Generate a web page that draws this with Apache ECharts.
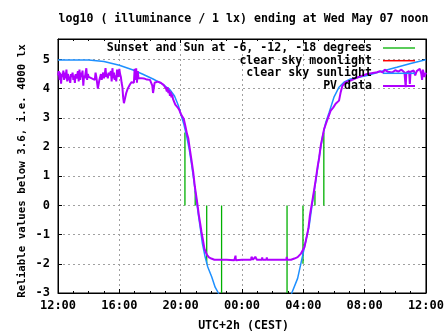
<!DOCTYPE html>
<html>
<head>
<meta charset="utf-8">
<script src="https://cdn.jsdelivr.net/npm/echarts@6/dist/echarts.min.js"></script>
<style>html,body{margin:0;padding:0;background:#fff}#c{width:447px;height:335px}</style>
</head>
<body>
<div id="c"></div>
<script>
// hours after 12:00 (May 06) -> log10 illuminance
const pvData = [
[0.00,4.45],[0.05,4.60],[0.10,4.30],[0.15,4.55],[0.20,4.17],[0.25,4.50],[0.30,4.40],[0.35,4.62],[0.40,4.30],[0.45,4.55],
[0.50,4.35],[0.55,4.65],[0.60,4.25],[0.65,4.50],[0.70,4.40],[0.75,4.45],[0.80,4.20],[0.85,4.50],[0.90,4.40],[0.95,4.55],
[1.00,4.30],[1.05,4.45],[1.10,4.20],[1.15,4.50],[1.20,4.35],[1.25,4.45],[1.30,4.60],[1.35,4.25],[1.40,4.65],[1.45,4.30],
[1.50,4.55],[1.55,4.40],[1.60,4.62],[1.65,4.10],[1.70,4.45],[1.75,4.35],[1.80,4.55],[1.85,4.70],[1.90,4.30],[1.95,4.50],
[2.00,4.40],[2.10,4.45],[2.20,4.35],[2.30,4.40],[2.40,4.30],[2.45,4.55],[2.50,4.40],[2.55,4.35],[2.60,4.00],[2.65,3.95],
[2.70,4.30],[2.75,4.40],[2.80,4.50],[2.85,4.30],[2.90,4.45],[2.95,4.55],[3.00,4.35],[3.05,4.50],[3.10,4.70],[3.15,4.40],
[3.20,4.50],[3.25,4.35],[3.30,4.55],[3.35,4.45],[3.40,4.40],[3.45,4.60],[3.50,4.25],[3.55,4.70],[3.60,4.35],[3.65,4.55],
[3.70,4.30],[3.75,4.45],[3.80,4.25],[3.85,4.65],[3.90,4.50],[3.95,4.40],[4.00,4.68],[4.05,4.50],[4.10,4.40],[4.15,4.20],
[4.20,4.05],[4.25,3.70],[4.30,3.50],[4.38,3.52],[4.45,3.85],[4.55,4.00],[4.62,4.05],[4.70,4.15],[4.80,4.22],[4.90,4.25],
[4.95,4.20],[5.00,4.68],[5.05,4.30],[5.10,4.70],[5.15,4.20],[5.20,4.60],[5.25,4.35],[5.30,4.40],[5.40,4.36],[5.50,4.37],
[5.60,4.35],[5.70,4.32],[5.80,4.31],[5.90,4.30],[6.00,4.30],[6.10,4.25],[6.15,4.10],[6.20,3.85],[6.25,3.83],[6.30,4.20],
[6.40,4.25],[6.50,4.24],[6.60,4.22],[6.70,4.20],[6.80,4.15],[6.90,4.12],[7.00,4.08],[7.05,4.00],[7.10,3.90],[7.15,4.05],
[7.20,3.85],[7.25,3.95],[7.30,3.75],[7.35,3.90],[7.40,3.70],[7.45,3.80],[7.50,3.65],[7.55,3.60],[7.65,3.45],[7.80,3.36],
[7.90,3.28],[8.00,3.15],[8.10,3.05],[8.20,2.97],[8.30,2.74],[8.41,2.46],[8.50,2.30],[8.58,2.00],[8.71,1.54],[8.82,1.14],
[8.93,0.63],[9.06,0.17],[9.13,-0.10],[9.19,-0.34],[9.28,-0.63],[9.36,-0.91],[9.46,-1.20],[9.55,-1.48],[9.65,-1.62],[9.73,-1.70],
[9.85,-1.78],[10.0,-1.82],[10.2,-1.86],[11.0,-1.86],[11.1,-1.90],[11.5,-1.88],[11.57,-1.88],[11.58,-1.72],[11.60,-1.88],[12.0,-1.86],
[12.6,-1.86],[12.62,-1.76],[12.7,-1.76],[12.72,-1.86],[12.85,-1.86],[12.87,-1.76],[12.95,-1.76],[12.97,-1.86],[13.3,-1.86],[13.32,-1.78],
[13.34,-1.86],[13.6,-1.86],[13.62,-1.78],[13.64,-1.86],[14.9,-1.86],[14.92,-1.76],[14.95,-1.86],[15.2,-1.86],[15.42,-1.82],[15.63,-1.77],
[15.85,-1.65],[16.07,-1.43],[16.17,-1.20],[16.33,-0.80],[16.43,-0.34],[16.54,0.00],[16.63,0.28],[16.72,0.57],[16.82,0.91],[16.93,1.31],
[17.04,1.65],[17.14,2.05],[17.25,2.34],[17.36,2.62],[17.58,2.95],[17.79,3.25],[17.95,3.35],[18.11,3.48],[18.33,3.59],[18.44,3.88],
[18.55,4.10],[18.76,4.22],[19.08,4.28],[19.52,4.38],[20.16,4.50],[20.81,4.56],[21.0,4.60],[21.2,4.55],[21.3,4.65],[21.5,4.58],
[21.6,4.62],[21.8,4.55],[22.0,4.63],[22.2,4.58],[22.4,4.65],[22.6,4.55],[22.68,4.05],[22.72,4.55],[22.9,4.60],[22.95,4.16],
[23.0,4.58],[23.2,4.62],[23.3,4.45],[23.4,4.60],[23.5,4.55],[23.6,4.68],[23.7,4.50],[23.75,4.30],[23.8,4.65],[23.9,4.40],[24.0,4.55]
];
const sunData = [
[0,4.98],[2.0,4.98],[3.0,4.93],[4.0,4.80],[4.9,4.64],[5.5,4.50],[6.2,4.33],[6.8,4.16],[7.3,3.96],[7.6,3.75],
[7.85,3.42],[8.0,3.15],[8.2,2.80],[8.4,2.35],[8.55,1.95],[8.7,1.45],[8.85,0.90],[9.0,0.30],[9.15,-0.30],[9.3,-0.85],
[9.42,-1.31],[9.6,-1.77],[9.77,-2.11],[10.03,-2.45],[10.25,-2.80],[10.46,-3.0],[10.7,-3.4],[15.0,-3.4],[15.25,-3.0],[15.63,-2.5],
[15.96,-1.71],[16.17,-1.20],[16.39,-0.68],[16.6,0.11],[16.82,0.86],[16.93,1.26],[17.1,1.88],[17.25,2.34],[17.47,2.85],[17.69,3.19],
[18.01,3.72],[18.33,4.05],[18.65,4.22],[19.08,4.33],[20.16,4.45],[21.0,4.58],[22.1,4.73],[23.0,4.86],[23.92,4.98],[24.0,4.99]
];
const moonData = [];
const eventTimes = [8.28, 8.95, 9.70, 10.67, 14.94, 15.98, 16.76, 17.34];
const eventHeights = [2.5, 0.5, -2.0, -3.0, -3.0, -2.0, 0.5, 2.5];
const xTickLabels = ['12:00','16:00','20:00','00:00','04:00','08:00','12:00'];
const yTickLabels = ['-3','-2','-1','0','1','2','3','4','5'];

const names = ['Sunset and Sun at -6, -12, -18 degrees','clear sky moonlight','clear sky sunlight','PV data'];
const colors = ['#00b000', '#ff0000', '#1e90ff', '#b000ff'];
const widths = [1.3, 1.5, 1.5, 2];
const FONT = 'DejaVu Sans Mono';

const eventData = [];
eventTimes.forEach((t, i) => { eventData.push([t, 0], [t, eventHeights[i]], [t, '-']); });

const chart = echarts.init(document.getElementById('c'), null, {renderer: 'canvas'});
const gridLine = {show: true, lineStyle: {color: '#a0a0a0', type: [2, 3], width: 1}};
const legendBase = (i, top) => ({
  data: [names[i]], right: 32, top: top, orient: 'horizontal', align: 'right', padding: 0,
  itemWidth: 32, itemHeight: 14, selectedMode: false, symbolKeepAspect: true,
  icon: 'path://M0,0L32,0L32,' + widths[i] + 'L0,' + widths[i] + 'Z',
  itemStyle: {color: colors[i], borderWidth: 0},
  textStyle: {fontFamily: FONT, fontSize: 11.6, fontWeight: 'bold', color: '#000', lineHeight: 14, padding: [0, 6, 0, 0]}
});
const axisLineStyle = {show: true, onZero: false, lineStyle: {color: '#000', width: 1}};
const xCommon = {type: 'value', min: 0, max: 24, interval: 4};
const yCommon = {type: 'value', min: -3, max: 5.7, interval: 1};
chart.setOption({
  animation: false,
  grid: {left: 58, right: 18, top: 39, bottom: 42, show: true, borderColor: '#000', borderWidth: 1},
  legend: [legendBase(0, 41), legendBase(1, 53.7), legendBase(2, 66.3), legendBase(3, 79)],
  graphic: [
    {type: 'text', x: 243.5, y: 19, style: {text: 'log10 ( illuminance / 1 lx) ending at Wed May 07 noon', fontFamily: FONT, fontSize: 11.6, fontWeight: 'bold', fill: '#000', align: 'center', verticalAlign: 'middle'}},
    {type: 'text', x: 22, y: 171, rotation: Math.PI / 2, style: {text: 'Reliable values below 3.6, i.e. 4000 lx', fontFamily: FONT, fontSize: 10.8, fontWeight: 'bold', fill: '#000', align: 'center', verticalAlign: 'middle'}},
    {type: 'text', x: 243.5, y: 326, style: {text: 'UTC+2h (CEST)', fontFamily: FONT, fontSize: 11.6, fontWeight: 'bold', fill: '#000', align: 'center', verticalAlign: 'middle'}}
  ],
  xAxis: [
    Object.assign({}, xCommon, {position: 'bottom',
      axisLine: axisLineStyle,
      axisTick: {show: true, inside: true, length: 4, lineStyle: {color: '#000'}},
      minorTick: {show: true, splitNumber: 4, length: 2, lineStyle: {color: '#000'}},
      axisLabel: {margin: 7, color: '#000', fontFamily: FONT, fontSize: 12, fontWeight: 'bold',
        formatter: v => xTickLabels[Math.round(v / 4)] || ''},
      splitLine: gridLine}),
    Object.assign({}, xCommon, {position: 'top',
      axisLine: axisLineStyle,
      axisTick: {show: true, inside: true, length: 4, lineStyle: {color: '#000'}},
      minorTick: {show: true, splitNumber: 4, length: 2, lineStyle: {color: '#000'}},
      axisLabel: {show: false}, splitLine: {show: false}})
  ],
  yAxis: [
    Object.assign({}, yCommon, {position: 'left',
      axisLine: axisLineStyle,
      axisTick: {show: true, inside: true, length: 4, lineStyle: {color: '#000'}},
      axisLabel: {margin: 8, color: '#000', fontFamily: FONT, fontSize: 12, fontWeight: 'bold', showMaxLabel: false,
        formatter: v => (Math.abs(v - Math.round(v)) < 1e-6 ? (yTickLabels[Math.round(v) + 3] || '') : '')},
      splitLine: gridLine}),
    Object.assign({}, yCommon, {position: 'right',
      axisLine: axisLineStyle,
      axisTick: {show: true, inside: true, length: 4, lineStyle: {color: '#000'}},
      axisLabel: {show: false}, splitLine: {show: false}})
  ],
  series: [
    {name: names[0], type: 'line', data: eventData, symbol: 'none', connectNulls: false, clip: true,
      lineStyle: {color: colors[0], width: widths[0]}, itemStyle: {color: colors[0]}},
    {name: names[1], type: 'line', data: moonData, symbol: 'none', clip: true,
      lineStyle: {color: colors[1], width: widths[1]}, itemStyle: {color: colors[1]}},
    {name: names[2], type: 'line', data: sunData, symbol: 'none', clip: true,
      lineStyle: {color: colors[2], width: widths[2]}, itemStyle: {color: colors[2]}},
    {name: names[3], type: 'line', data: pvData, symbol: 'none', clip: true,
      lineStyle: {color: colors[3], width: widths[3]}, itemStyle: {color: colors[3]}}
  ]
});
</script>
</body>
</html>
